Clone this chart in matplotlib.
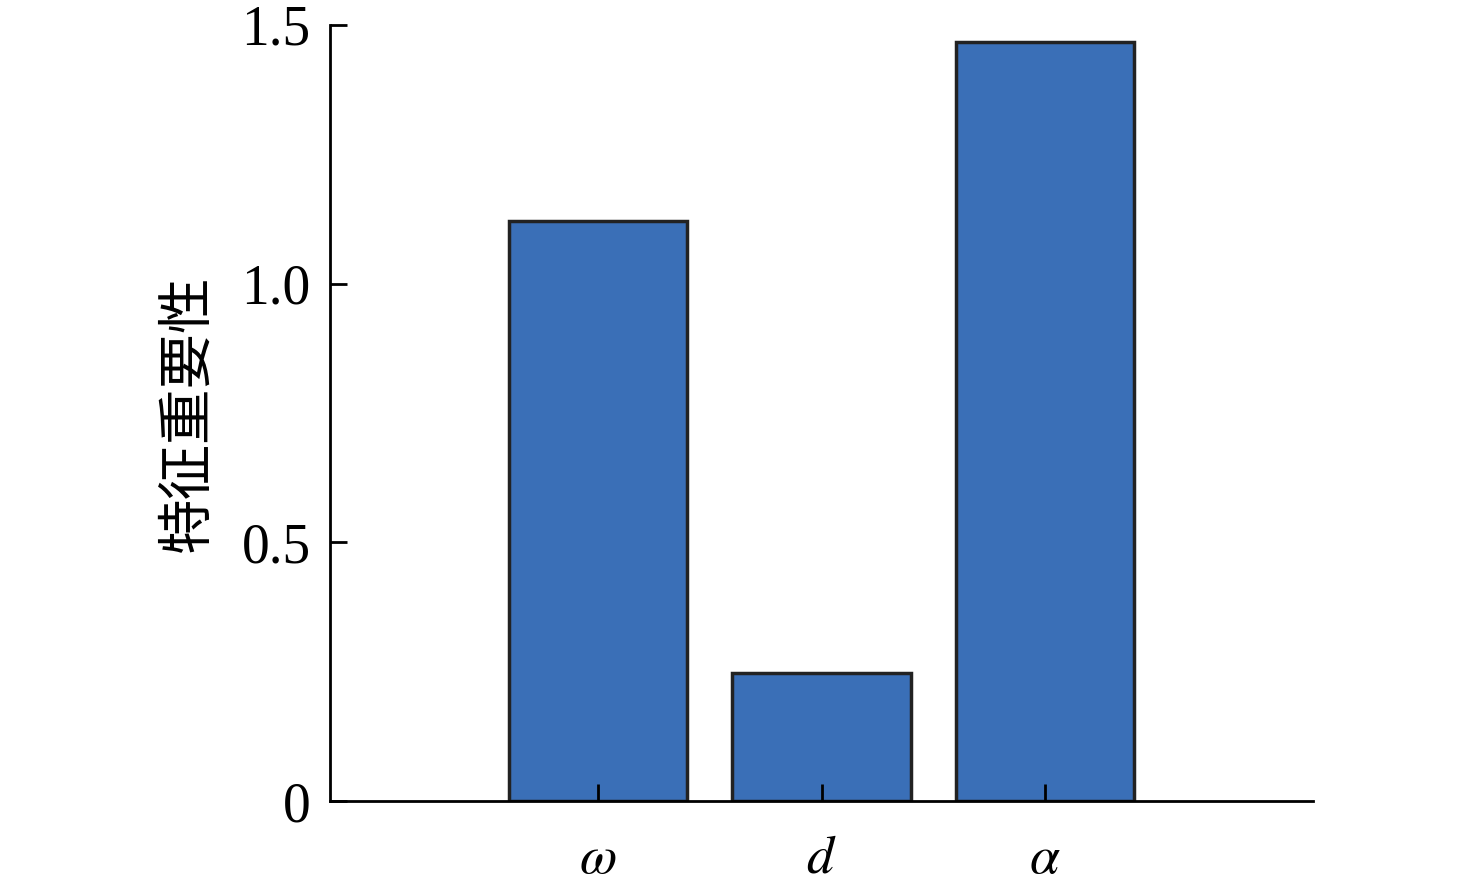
import matplotlib
matplotlib.use('Agg')
import matplotlib.pyplot as plt

plt.rcParams['font.family'] = ['Liberation Serif', 'Noto Sans CJK SC']
plt.rcParams['mathtext.fontset'] = 'stix'

features = [r'$\omega$', r'$d$', r'$\alpha$']
importance = [1.121, 0.247, 1.467]
y_ticks = [0, 0.5, 1.0, 1.5]
y_tick_labels = ['0', '0.5', '1.0', '1.5']

fig = plt.figure(figsize=(14.76, 8.9), dpi=100)
ax = fig.add_axes([0.2236, 0.1, 0.666, 0.872])

pos = [1, 2, 3]
ax.bar(pos, importance, width=0.8, color='#3A6FB7', edgecolor='#222222', linewidth=2.5)

ax.set_xlim(-0.2, 4.2)
ax.set_ylim(0, 1.5)
ax.set_xticks(pos)
ax.set_xticklabels(features, fontsize=39)
ax.set_yticks(y_ticks)
ax.set_yticklabels(y_tick_labels, fontsize=40)
ax.set_ylabel('特征重要性', fontsize=40, family=['Noto Sans CJK SC'], labelpad=18)

for s in ['top', 'right']:
    ax.spines[s].set_visible(False)
for s in ['left', 'bottom']:
    ax.spines[s].set_linewidth(2)
ax.tick_params(direction='in', length=12, width=2)
ax.tick_params(axis='x', pad=24)
ax.tick_params(axis='y', pad=14)

fig.savefig('out.png', dpi=100)
